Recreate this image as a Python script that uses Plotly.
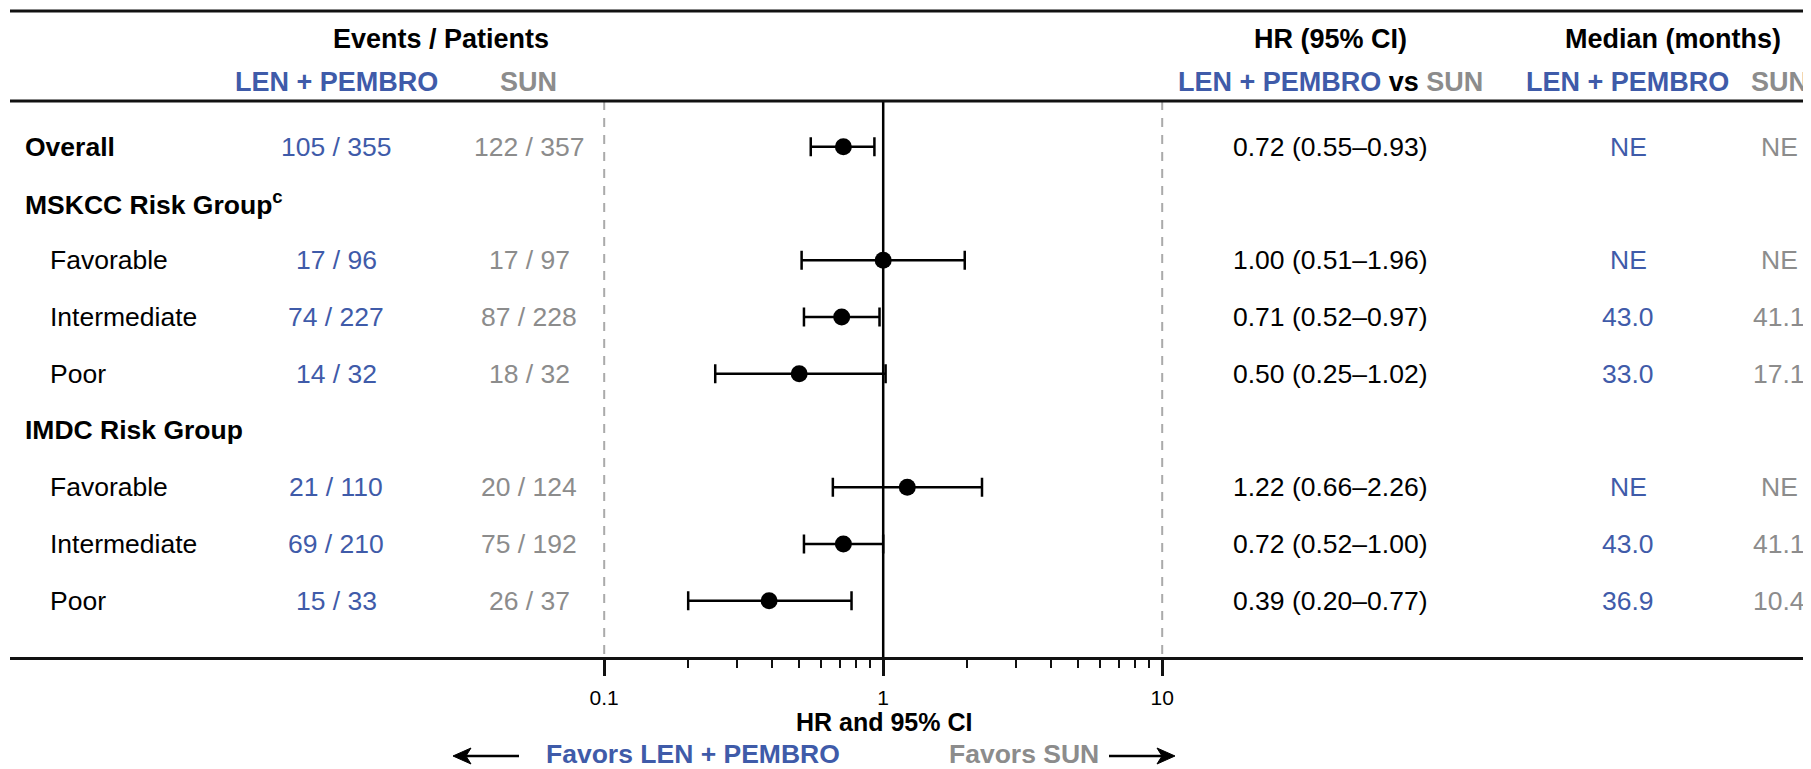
import plotly.graph_objects as go

# ---------------- data ----------------
row_labels = ["Overall", "MSKCC Risk Group<sup>c</sup>", "Favorable", "Intermediate", "Poor",
              "IMDC Risk Group", "Favorable", "Intermediate", "Poor"]
row_is_header = [True, True, False, False, False, True, False, False, False]
data_rows = [0, 2, 3, 4, 6, 7, 8]

len_events = ["105 / 355", "17 / 96", "74 / 227", "14 / 32", "21 / 110", "69 / 210", "15 / 33"]
sun_events = ["122 / 357", "17 / 97", "87 / 228", "18 / 32", "20 / 124", "75 / 192", "26 / 37"]
hr = [0.72, 1.00, 0.71, 0.50, 1.22, 0.72, 0.39]
hr_lo = [0.55, 0.51, 0.52, 0.25, 0.66, 0.52, 0.20]
hr_hi = [0.93, 1.96, 0.97, 1.02, 2.26, 1.00, 0.77]
median_len = ["NE", "NE", "43.0", "33.0", "NE", "43.0", "36.9"]
median_sun = ["NE", "NE", "41.1", "17.1", "NE", "41.1", "10.4"]

tick_vals = [0.1, 1, 10]
tick_text = ["0.1", "1", "10"]
minor_vals = [0.2, 0.3, 0.4, 0.5, 0.6, 0.7, 0.8, 0.9, 2, 3, 4, 5, 6, 7, 8, 9]

# ---------------- style ----------------
BLUE = "#3F5BA9"
GREY = "#8C8C8C"
BLACK = "#000000"
LINE = "#111111"
FONT = "Liberation Sans, Arial, Helvetica, sans-serif"

OFF = 8                      # default page body margin of the html page
W, H = 1811 - OFF, 769 - OFF
ML, MR, MT, MB = 2, 0, 0, 112
PW = W - ML - MR
PH = H - MT - MB

# all positions below are screen pixels (window coordinates)
ROW0 = 146.7      # screen y of first row
ROWSTEP = 56.75   # spacing between rows


def py2y(p):
    return (p - ROW0) / ROWSTEP


def px2paper(p):
    return (p - OFF - ML) / PW


def py2paper(p):
    return (MT + PH - (p - OFF)) / PH


Y_TOP = py2y(OFF + MT)
Y_BOT = py2y(OFF + MT + PH)
Y_HEADLINE = py2y(101)
Y_TOPLINE = py2y(11)

# log-axis pixel mapping: x=1 at 883.2 px (screen), 279 px per decade
X1 = 883.2
DEC = 279.0
xr = [(OFF + ML - X1) / DEC, (OFF + W - MR - X1) / DEC]

fig = go.Figure()

# reference lines
for v, dash, col in [(0.1, "9px,8px", "#AAAAAA"), (10, "9px,8px", "#AAAAAA"), (1, "solid", BLACK)]:
    fig.add_trace(go.Scatter(
        x=[v, v], y=[Y_HEADLINE, Y_BOT], mode="lines",
        line=dict(color=col, width=2.5 if v == 1 else 2, dash=dash),
        hoverinfo="skip", showlegend=False))

# forest points
fig.add_trace(go.Scatter(
    x=hr, y=data_rows, mode="markers",
    marker=dict(color=BLACK, size=17, symbol="circle"),
    error_x=dict(type="data", symmetric=False,
                 array=[h - m for h, m in zip(hr_hi, hr)],
                 arrayminus=[m - l for m, l in zip(hr, hr_lo)],
                 color=BLACK, thickness=2.5, width=9.5),
    showlegend=False, hoverinfo="skip"))

ann = []


def txt(xp, y, text, color=BLACK, size=26.5, bold=False, xanchor="center", yref="y"):
    t = f"<b>{text}</b>" if bold else text
    ann.append(dict(x=px2paper(xp), xref="paper", y=y, yref=yref, text=t,
                    showarrow=False, xanchor=xanchor, yanchor="middle",
                    font=dict(family=FONT, size=size, color=color)))


# header texts
txt(441, py2y(38.5), "Events / Patients", bold=True, size=27)
txt(336, py2y(82), "LEN + PEMBRO", BLUE, bold=True, size=27)
txt(528, py2y(82), "SUN", GREY, bold=True, size=27)
txt(1330, py2y(38.5), "HR (95% CI)", bold=True, size=27)
txt(1330, py2y(82),
    f"<span style='color:{BLUE}'>LEN + PEMBRO</span> vs <span style='color:{GREY}'>SUN</span>",
    bold=True, size=27)
txt(1673, py2y(38.5), "Median (months)", bold=True, size=27)
txt(1627, py2y(82), "LEN + PEMBRO", BLUE, bold=True, size=27)
txt(1779, py2y(82), "SUN", GREY, bold=True, size=27)

# row labels
for i, (lab, hd) in enumerate(zip(row_labels, row_is_header)):
    txt(23 if hd else 48, i, lab, bold=hd, xanchor="left")

# data columns
for k, r in enumerate(data_rows):
    txt(336, r, len_events[k], BLUE)
    txt(529, r, sun_events[k], GREY)
    txt(1330, r, f"{hr[k]:.2f} ({hr_lo[k]:.2f}\u2013{hr_hi[k]:.2f})", BLACK)
    txt(1628, r, median_len[k], BLUE)
    txt(1779, r, median_sun[k], GREY)

# bottom texts
txt(883.5, py2paper(722), "HR and 95% CI", bold=True, size=25, yref="paper")
txt(692.5, py2paper(754), "Favors LEN + PEMBRO", BLUE, bold=True, size=26.5, yref="paper")
txt(1023.5, py2paper(754), "Favors SUN", GREY, bold=True, size=26.5, yref="paper")

shapes = [
    dict(type="line", xref="paper", yref="y", x0=0, x1=1, y0=Y_TOPLINE, y1=Y_TOPLINE,
         line=dict(color=LINE, width=3)),
    dict(type="line", xref="paper", yref="y", x0=0, x1=1, y0=Y_HEADLINE, y1=Y_HEADLINE,
         line=dict(color=LINE, width=3)),
]

# arrows (line + arrowhead path), screen pixels converted to paper units
AY = 756
for tip, tail in [(453, 519), (1175, 1109)]:
    d = 1 if tail > tip else -1
    shapes.append(dict(type="line", xref="paper", yref="paper",
                       x0=px2paper(tail), x1=px2paper(tip + d * 8),
                       y0=py2paper(AY), y1=py2paper(AY),
                       line=dict(color=BLACK, width=2.4)))
    pts = [(tip, AY), (tip + d * 18, AY - 8), (tip + d * 13, AY), (tip + d * 18, AY + 8)]
    path = "M " + " L ".join(f"{px2paper(x):.6f},{py2paper(y):.6f}" for x, y in pts) + " Z"
    shapes.append(dict(type="path", xref="paper", yref="paper", path=path,
                       fillcolor=BLACK, line=dict(color=BLACK, width=1)))

fig.update_layout(
    width=W, height=H,
    margin=dict(l=ML, r=MR, t=MT, b=MB, pad=0),
    paper_bgcolor="white", plot_bgcolor="white",
    showlegend=False,
    annotations=ann, shapes=shapes,
    font=dict(family=FONT, color=BLACK),
    xaxis=dict(type="log", range=xr, showgrid=False, zeroline=False,
               showline=True, linecolor=LINE, linewidth=3,
               tickmode="array", tickvals=tick_vals, ticktext=tick_text,
               ticks="outside", ticklen=16, tickwidth=2.5, tickcolor=LINE,
               ticklabelstandoff=4,
               tickfont=dict(family=FONT, size=21, color=BLACK),
               minor=dict(tickmode="array", tickvals=minor_vals, ticks="outside",
                          ticklen=8, tickwidth=2, tickcolor=LINE, showgrid=False),
               fixedrange=True),
    yaxis=dict(range=[Y_BOT, Y_TOP], visible=False, fixedrange=True),
)

fig.write_html("out.html")
